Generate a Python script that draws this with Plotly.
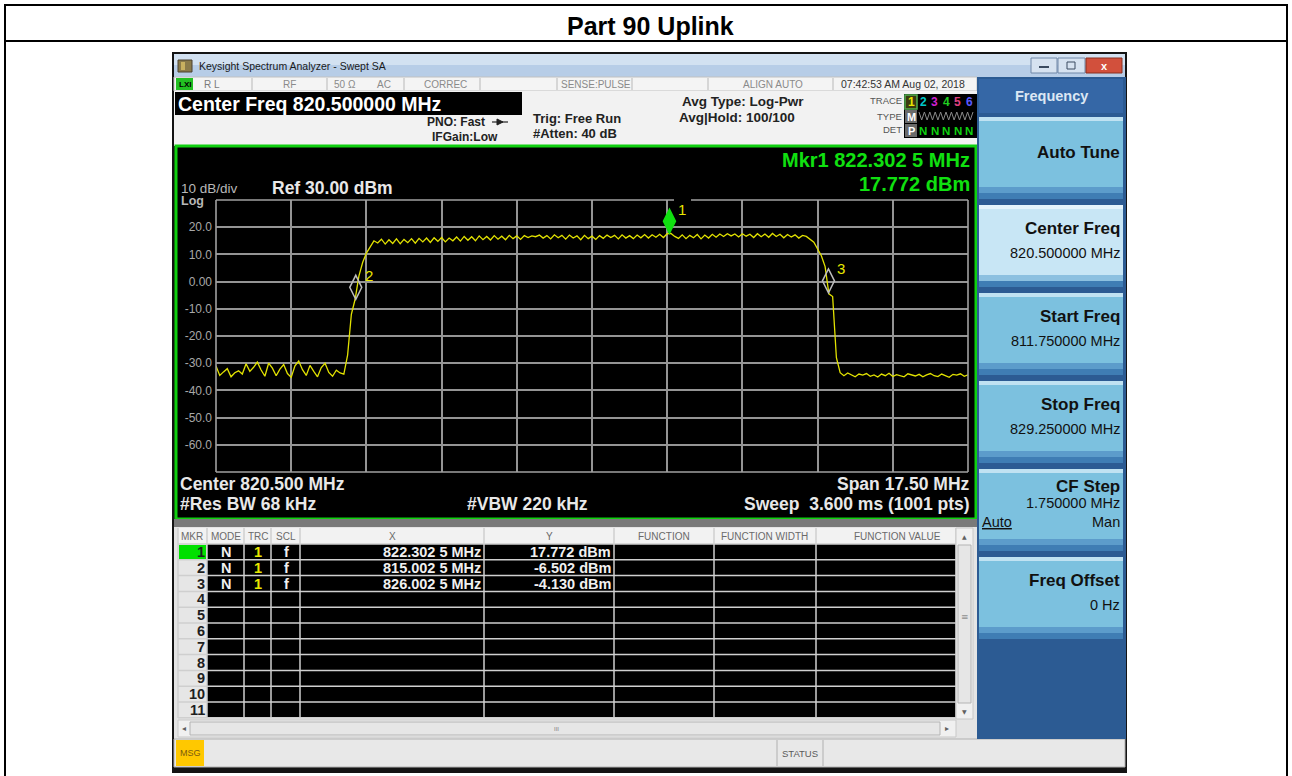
import numpy as np
import plotly.graph_objects as go

W, H = 1292, 776
FONT = "Liberation Sans, Arial, Helvetica, sans-serif"

# ---------------- data ----------------
START_MHZ = 811.75
STOP_MHZ = 829.25
CENTER_MHZ = 820.5
SPAN_MHZ = 17.5
REF_DBM = 30.0
DB_PER_DIV = 10.0
N_DIV = 10

trace_dbm = [
    # 811.75 .. out-of-band noise (left)
    -31.0, -34.5, -33.2, -32.0, -35.0, -33.5, -32.8, -34.0, -30.2, -33.0,
    -31.5, -29.6, -32.5, -34.8, -30.0, -31.8, -34.6, -32.2, -30.5, -33.8,
    -35.2, -31.0, -29.2, -32.4, -34.5, -30.8, -33.0, -35.0, -31.6, -30.0,
    -33.4, -34.8, -32.6, -33.6, -34.0,
    # rising edge
    -27.0, -12.0, -6.5, 2.0, 7.0, 10.5, 13.0, 15.0,
    # in-band
    14.2, 15.6, 13.8, 15.4, 14.0, 15.7, 13.9, 15.5, 14.3, 15.8,
    14.1, 15.9, 14.6, 16.0, 14.4, 16.1, 14.8, 16.2, 14.6, 16.0,
    15.0, 16.4, 14.9, 16.6, 15.2, 16.5, 15.0, 16.8, 15.4, 16.6,
    15.3, 16.9, 15.6, 16.7, 15.4, 17.0, 15.8, 16.8, 15.5, 16.9,
    16.2, 16.8, 16.5, 17.1, 16.0, 16.9, 15.7, 17.2, 16.1, 17.0,
    15.6, 17.1, 16.0, 16.8, 15.4, 17.0, 15.8, 16.7, 15.5, 16.9,
    15.9, 17.1, 16.2, 17.0, 15.7, 17.2, 16.0, 16.9, 15.8, 17.1,
    16.1, 17.3, 16.0, 17.2, 16.3, 17.4, 16.2, 17.6, 17.7, 16.6,
    15.9, 17.2, 15.8, 17.0, 16.1, 17.3, 15.7, 17.1, 16.0, 17.4,
    16.3, 17.5, 16.6, 17.6, 16.8, 17.5, 16.4, 17.6, 16.7, 17.4,
    16.2, 17.6, 16.5, 17.5, 16.3, 17.7, 16.6, 17.4, 16.1, 17.3,
    16.4, 17.2, 16.0, 17.0, 16.6,
    # falling edge
    15.5, 14.5, 12.0, 9.5, 5.5, -4.5, -5.5, -28.0, -33.5,
    # out-of-band noise (right) .. 829.25
    -34.6, -33.6, -34.2, -35.0, -34.0, -34.4, -33.8, -34.8, -34.3, -35.1,
    -34.0, -34.6, -33.7, -34.9, -34.2, -34.5, -35.0, -33.9, -34.4, -34.7,
    -34.1, -35.0, -34.3, -33.8, -34.6, -34.9, -34.0, -34.5, -35.2, -34.1,
    -34.4, -33.9, -34.8, -34.3,
]

marker_ids = [1, 2, 3]
marker_freq_mhz = [822.3025, 815.0025, 826.0025]
marker_dbm = [17.772, -6.502, -4.130]

ytick_vals = [20, 10, 0, -10, -20, -30, -40, -50, -60]
ytick_text = ["20.0", "10.0", "0.00", "-10.0", "-20.0", "-30.0", "-40.0", "-50.0", "-60.0"]

softkey_labels = ["Auto Tune", "Center Freq", "Start Freq", "Stop Freq", "CF Step", "Freq Offset"]
softkey_values = ["", "820.500000 MHz", "811.750000 MHz", "829.250000 MHz", "1.750000 MHz", "0 Hz"]

table_cols = ["MKR", "MODE", "TRC", "SCL", "X", "Y", "FUNCTION", "FUNCTION WIDTH", "FUNCTION VALUE"]

# ---------------- helpers ----------------
shapes = []
annots = []


def px(x):
    return x / W


def py(y):
    return 1 - y / H


def rect(x0, y0, x1, y1, fill, line=None, lw=1, layer="below"):
    shapes.append(dict(type="rect", xref="paper", yref="paper",
                       x0=px(x0), x1=px(x1), y0=py(y1), y1=py(y0),
                       fillcolor=fill,
                       line=dict(color=line if line else "rgba(0,0,0,0)", width=lw if line else 0),
                       layer=layer))


def hline(x0, x1, y, color, lw=1, layer="below"):
    shapes.append(dict(type="line", xref="paper", yref="paper",
                       x0=px(x0), x1=px(x1), y0=py(y), y1=py(y),
                       line=dict(color=color, width=lw), layer=layer))


def vline(x, y0, y1, color, lw=1, layer="below"):
    shapes.append(dict(type="line", xref="paper", yref="paper",
                       x0=px(x), x1=px(x), y0=py(y0), y1=py(y1),
                       line=dict(color=color, width=lw), layer=layer))


def poly(points, fill, line=None, layer="above", closed=True, lw=1):
    d = "M" + " L".join(f"{px(a):.5f},{py(b):.5f}" for a, b in points) + (" Z" if closed else "")
    shapes.append(dict(type="path", xref="paper", yref="paper", path=d,
                       fillcolor=fill, line=dict(color=line or fill, width=lw), layer=layer))


def txt(x, y, s, size=12, color="#000000", bold=False, anchor="left", family=FONT):
    annots.append(dict(x=px(x), y=py(y), xref="paper", yref="paper", text=s,
                       showarrow=False, xanchor=anchor, yanchor="middle",
                       borderpad=0, borderwidth=0,
                       font=dict(size=size, color=color, family=family,
                                 weight="bold" if bold else "normal")))


# ---------------- document frame ----------------
hline(4, 1288, 5, "#000000", 2)
hline(4, 1288, 41, "#000000", 2)
vline(5, 4, 776, "#000000", 2)
vline(1287, 4, 776, "#000000", 2)
txt(650, 26, "Part 90 Uplink", size=25, bold=True, anchor="center")

# ---------------- screenshot window ----------------
rect(172, 52, 1127, 773, "#141414")
# title bar
rect(174, 54, 1125, 65, "#d2e1f1")
rect(174, 65, 1125, 77, "#b7cde7")
rect(178, 60, 192, 72, "#8a7a4a", "#4a4030")
rect(181, 62, 185, 70, "#c8b060")
txt(199, 66, "Keysight Spectrum Analyzer - Swept SA", size=10.5, color="#1a1a1a")
rect(1031, 58, 1057, 73, "#d6e2f0", "#7088a8")
hline(1039, 1049, 67, "#3a4a60", 2, layer="above")
rect(1058, 58, 1085, 73, "#d6e2f0", "#7088a8")
rect(1067, 62, 1075, 69, "rgba(0,0,0,0)", "#3a4a60", 1, layer="above")
rect(1086, 58, 1122, 73, "#d2503c", "#8a3020")
txt(1104, 65.5, "x", size=11, color="#ffffff", bold=True, anchor="center")

# status row
rect(174, 77, 977, 91, "#f4f4f4", "#c0c0c0")
rect(176, 78, 193, 90, "#22c022")
txt(184.5, 84, "LXI", size=8, color="#000000", bold=True, anchor="center")
for xd in [252, 327, 404, 480, 557, 632, 708, 833]:
    vline(xd, 78, 90, "#b8b8b8", 1)
txt(204, 84, "R L", size=10, color="#7a7a7a")
txt(289, 84, "RF", size=10, color="#8a8a8a", anchor="center")
txt(345, 84, "50 Ω", size=10, color="#8a8a8a", anchor="center")
txt(384, 84, "AC", size=10, color="#8a8a8a", anchor="center")
txt(445, 84, "CORREC", size=10, color="#8a8a8a", anchor="center")
txt(596, 84, "SENSE:PULSE", size=10, color="#8a8a8a", anchor="center")
txt(773, 84, "ALIGN AUTO", size=10, color="#8a8a8a", anchor="center")
txt(903, 84, "07:42:53 AM Aug 02, 2018", size=10.5, color="#333333", anchor="center")

# info area
rect(174, 91, 977, 146, "#f2f2f2")
rect(175, 92, 522, 115, "#000000")
txt(178, 104, f"Center Freq {CENTER_MHZ:.6f} MHz", size=19.5, color="#ffffff", bold=True)
txt(427, 122, "PNO: Fast", size=12, color="#222222", bold=True)
hline(492, 508, 122, "#222222", 1.2, layer="above")
poly([(497, 119), (503, 122), (497, 125)], "#222222")
txt(432, 137, "IFGain:Low", size=12, color="#222222", bold=True)
txt(533, 118, "Trig: Free Run", size=13, color="#222222", bold=True)
txt(533, 133, "#Atten: 40 dB", size=13, color="#222222", bold=True)
txt(682, 102, "Avg Type: Log-Pwr", size=13.5, color="#222222", bold=True)
txt(679, 117, "Avg|Hold: 100/100", size=13.5, color="#222222", bold=True)
txt(902, 101, "TRACE", size=9.5, color="#555555", anchor="right")
txt(902, 116, "TYPE", size=9.5, color="#555555", anchor="right")
txt(902, 130, "DET", size=9.5, color="#555555", anchor="right")
rect(904, 94, 977, 138, "#000000")
rect(905, 95, 917, 109, "#3a3a10", "#50b050", 1.5)
trace_colors = ["#e8e800", "#00c8c8", "#d020d0", "#20d020", "#e04080", "#5a5aff"]
digit_x = [911, 923, 934.5, 946, 957.5, 969]
for k in range(6):
    txt(digit_x[k], 102, str(k + 1), size=12, color=trace_colors[k], bold=True, anchor="center")
rect(905, 110, 917, 123, "#6a6a6a")
txt(911, 116.5, "M", size=11, color="#ffffff", bold=True, anchor="center")
# "WWWW" trace-type strip drawn as a zigzag
zz = [(919 + 2.7 * j, 112 if j % 2 == 0 else 120) for j in range(21)]
poly(zz, "rgba(0,0,0,0)", "#8a8a8a", closed=False, lw=1)
rect(905, 124, 917, 137, "#6a6a6a")
txt(911, 130.5, "P", size=11, color="#ffffff", bold=True, anchor="center")
for k in range(1, 6):
    txt(digit_x[k], 130.5, "N", size=11.5, color="#10d010", bold=True, anchor="center")

# graph window
rect(176, 146, 976, 519, "#000000", "#10d010", 3)
rect(174, 519, 977, 527, "#7a7a7a")

# plot frame (with marker gap on top edge)
GL, GR, GT, GB = 216, 968, 200, 472
FRAME = "#a0a0a0"
hline(GL, 674, GT, FRAME, 1.6, layer="above")
hline(691, GR, GT, FRAME, 1.6, layer="above")
hline(GL, GR, GB, FRAME, 1.6, layer="above")
vline(GL, GT, GB, FRAME, 1.6, layer="above")
vline(GR, GT, GB, FRAME, 1.6, layer="above")

txt(181, 188, "10 dB/div", size=13.5, color="#b8b8b8")
txt(181, 201, "Log", size=12.5, color="#b8b8b8", bold=True)
txt(272, 188, f"Ref {REF_DBM:.2f} dBm", size=17.5, color="#e8e8e8", bold=True)

mk_f = marker_freq_mhz[0]
mk_s = f"{mk_f:.4f}"
mk_s = mk_s[:-1] + " " + mk_s[-1]
txt(970, 160, f"Mkr1 {mk_s} MHz", size=20, color="#10e010", bold=True, anchor="right")
txt(970, 183.5, f"{marker_dbm[0]:.3f} dBm", size=20, color="#10e010", bold=True, anchor="right")

txt(180, 484, f"Center {CENTER_MHZ:.3f} MHz", size=17.5, color="#e8e8e8", bold=True)
txt(180, 504, "#Res BW 68 kHz", size=17.5, color="#e8e8e8", bold=True)
txt(527, 504, "#VBW 220 kHz", size=17.5, color="#e8e8e8", bold=True, anchor="center")
txt(970, 484, f"Span {SPAN_MHZ:.2f} MHz", size=17.5, color="#e8e8e8", bold=True, anchor="right")
txt(970, 504, "Sweep  3.600 ms (1001 pts)", size=17.5, color="#e8e8e8", bold=True, anchor="right")

# ---------------- marker table ----------------
rect(174, 527, 977, 739, "#e4e4e4")
col_x = [178, 207, 244, 271, 300, 484, 614, 714, 816, 956]
rect(178, 528, 956, 544, "#f2f2f2")
rect(178, 544, 207, 718, "#e6e6e6")
rect(207, 544, 956, 718, "#000000")
ROW0, ROWH = 544, 15.8
rect(179, ROW0 + 1, 206, ROW0 + ROWH, "#00e000")
for k in range(12):
    yk = ROW0 + ROWH * k
    hline(178, 956, yk, "#cfcfcf", 1.5)
for i, xc in enumerate(col_x):
    vline(xc, 528, 718, "#cfcfcf", 1.5)
hdr_cx = [192, 226, 258, 286, 392, 549, 664, 765, 897]
for name, cx in zip(table_cols, hdr_cx):
    txt(cx, 536, name, size=10, color="#6a6a6a", anchor="center")
for k in range(11):
    yc = ROW0 + ROWH * (k + 0.5)
    txt(205, yc, str(k + 1), size=14.5, color="#1e1e1e", bold=True, anchor="right")
for k, (mid, f, v) in enumerate(zip(marker_ids, marker_freq_mhz, marker_dbm)):
    yc = ROW0 + ROWH * (k + 0.5)
    fs = f"{f:.4f}"
    fs = fs[:-1] + " " + fs[-1]
    txt(226, yc, "N", size=14.5, color="#f0f0f0", bold=True, anchor="center")
    txt(258, yc, "1", size=14.5, color="#e8e800", bold=True, anchor="center")
    txt(286, yc, "f", size=14.5, color="#f0f0f0", bold=True, anchor="center")
    txt(481, yc, f"{fs} MHz", size=14.5, color="#f0f0f0", bold=True, anchor="right")
    txt(611, yc, f"{v:.3f} dBm", size=14.5, color="#f0f0f0", bold=True, anchor="right")

# scrollbars
rect(956, 528, 973, 719, "#f0f0f0", "#c8c8c8")
rect(958, 545, 971, 703, "#e6e6e6", "#b4b4b4")
txt(964.5, 536, "▲", size=6, color="#606060", anchor="center", family="DejaVu Sans")
txt(964.5, 711, "▼", size=6, color="#606060", anchor="center", family="DejaVu Sans")
txt(964.5, 617, "≡", size=9, color="#909090", anchor="center", family="DejaVu Sans")
rect(178, 720, 956, 737, "#f0f0f0", "#c8c8c8")
rect(190, 722, 940, 735, "#e6e6e6", "#b4b4b4")
txt(184, 728.5, "◂", size=8, color="#606060", anchor="center", family="DejaVu Sans")
txt(947, 728.5, "▸", size=8, color="#606060", anchor="center", family="DejaVu Sans")
txt(556, 728.5, "III", size=6, color="#808080", anchor="center")

# bottom status bar
rect(174, 739, 1125, 767, "#e8e8e8", "#b0b0b0")
rect(176, 740, 204, 766, "#ffc800")
txt(190, 753, "MSG", size=9, color="#7a5a10", anchor="center")
vline(777, 740, 766, "#b0b0b0", 1)
vline(823, 740, 766, "#b0b0b0", 1)
txt(800, 753, "STATUS", size=9.5, color="#5a5a5a", anchor="center")

# ---------------- right softkey panel ----------------
rect(977, 77, 1126, 739, "#2c5b93")
rect(979, 79, 1123, 113, "#3567a6")
txt(1051, 96, "Frequency", size=14.5, color="#dce7f4", bold=True, anchor="center")
for k, (lab, val) in enumerate(zip(softkey_labels, softkey_values)):
    top = 117 + 88 * k
    bot = top + 82
    body = "#c8e6f5" if k == 1 else "#7cc1df"
    rect(979, top, 1123, bot, body)
    rect(979, top, 1123, top + 4, "#e4f3fb" if k == 1 else "#c0e2f2")
    rect(979, bot - 12, 1123, bot - 6, "#5c9ccb" if k != 1 else "#8cc0e0")
    rect(979, bot - 6, 1123, bot, "#3f7db4")
    if k == 0:
        txt(1120, top + 36, lab, size=17, color="#111111", bold=True, anchor="right")
    elif lab == "CF Step":
        txt(1120, top + 17, lab, size=17, color="#111111", bold=True, anchor="right")
        txt(1120, top + 34, val, size=14.5, color="#111111", anchor="right")
        txt(982, top + 53, "<u>Auto</u>", size=14.5, color="#111111")
        txt(1120, top + 53, "Man", size=14.5, color="#111111", anchor="right")
    else:
        txt(1120, top + 23, lab, size=17, color="#111111", bold=True, anchor="right")
        txt(1120, top + 48, val, size=14.5, color="#111111", anchor="right")

# ---------------- spectrum trace ----------------
freq_mhz = np.linspace(START_MHZ, STOP_MHZ, len(trace_dbm))

fig = go.Figure()
fig.add_trace(go.Scatter(x=freq_mhz, y=trace_dbm, mode="lines",
                         line=dict(color="#e2e200", width=1.3),
                         hoverinfo="skip", showlegend=False))

# marker diamonds (bottom tip sits on the marker point)
diamond = "M0,0 L6,12 L0,24 L-6,12 Z"
for mid, f, v in zip(marker_ids, marker_freq_mhz, marker_dbm):
    active = (mid == 1)
    shapes.append(dict(type="path", xref="x", yref="y",
                       xsizemode="pixel", ysizemode="pixel",
                       xanchor=f, yanchor=v, path=diamond,
                       fillcolor="#10e010" if active else "rgba(0,0,0,0)",
                       line=dict(color="#10e010" if active else "#bcbcbc", width=1.5),
                       layer="above"))
    annots.append(dict(x=f, y=v, xref="x", yref="y", text=str(mid), showarrow=False,
                       xshift=13, yshift=24, xanchor="center", yanchor="middle",
                       font=dict(size=15, color="#e8e800", family=FONT)))

fig.update_layout(
    width=W, height=H,
    margin=dict(l=0, r=0, t=0, b=0),
    paper_bgcolor="#ffffff",
    plot_bgcolor="#000000",
    showlegend=False,
    shapes=shapes,
    annotations=annots,
    xaxis=dict(domain=[GL / W, GR / W],
               range=[START_MHZ, STOP_MHZ],
               tickmode="linear", tick0=START_MHZ, dtick=SPAN_MHZ / N_DIV,
               showticklabels=False, ticks="",
               showgrid=True, gridcolor="#949494", gridwidth=1.5,
               zeroline=False, showline=False, fixedrange=True),
    yaxis=dict(domain=[1 - GB / H, 1 - GT / H],
               range=[REF_DBM - N_DIV * DB_PER_DIV, REF_DBM],
               tickmode="array", tickvals=ytick_vals, ticktext=ytick_text,
               tickfont=dict(size=12, color="#a8a8a8", family=FONT),
               ticks="", ticklabelstandoff=3,
               showgrid=True, gridcolor="#949494", gridwidth=1.5,
               zeroline=False, showline=False, fixedrange=True),
)

fig.write_html("out.html", config={"displayModeBar": False},
               post_script="document.body.style.margin='0px';document.body.style.overflow='hidden';")
